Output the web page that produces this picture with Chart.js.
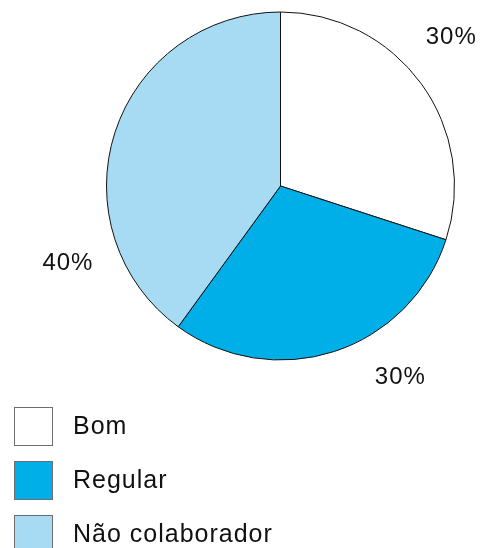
<!DOCTYPE html>
<html>
<head>
<meta charset="utf-8">
<script src="https://cdn.jsdelivr.net/npm/chart.js@4"></script>
<style>
  html, body { margin: 0; padding: 0; background: #fff; }
  #wrap { position: relative; width: 483px; height: 548px; overflow: hidden; }
</style>
</head>
<body>
<div id="wrap"><canvas id="pie" width="483" height="548"></canvas></div>
<script>
// Chart data
const categories = ['Bom', 'Regular', 'Não colaborador'];
const values = [30, 30, 40];
const sliceColors = ['#ffffff', '#00aee8', '#a7dbf3'];
// where each percentage sits around the pie (degrees clockwise from top)
const labelAngles = [49, 148, 250];

const FONT = '"Liberation Sans", Arial, sans-serif';

// Percent labels outside the pie
const percentLabels = {
  id: 'percentLabels',
  afterDatasetsDraw(chart) {
    const ctx = chart.ctx;
    const arc = chart.getDatasetMeta(0).data[0];
    const total = values.reduce((a, b) => a + b, 0);
    ctx.save();
    ctx.font = '24px ' + FONT;
    ctx.letterSpacing = '1px';
    ctx.fillStyle = '#111';
    ctx.textAlign = 'center';
    ctx.textBaseline = 'middle';
    values.forEach((v, i) => {
      const a = labelAngles[i] * Math.PI / 180;
      const d = arc.outerRadius * 1.3;
      const x = arc.x + Math.sin(a) * d;
      const y = arc.y - Math.cos(a) * d;
      ctx.fillText(Math.round(v / total * 100) + '%', x, y);
    });
    ctx.restore();
  }
};

// Square legend in the lower left corner
const boxLegend = {
  id: 'boxLegend',
  afterDraw(chart) {
    const ctx = chart.ctx;
    ctx.save();
    ctx.font = '25px ' + FONT;
    ctx.letterSpacing = '1px';
    ctx.textBaseline = 'middle';
    categories.forEach((name, i) => {
      const top = 407 + i * 54;
      ctx.fillStyle = sliceColors[i];
      ctx.fillRect(14.5, top + 0.5, 38, 38);
      ctx.strokeStyle = '#6d6d6d';
      ctx.lineWidth = 1;
      ctx.strokeRect(14.5, top + 0.5, 38, 38);
      ctx.fillStyle = '#111';
      ctx.fillText(name, 73, top + 20);
    });
    ctx.restore();
  }
};

new Chart(document.getElementById('pie'), {
  type: 'pie',
  data: {
    labels: categories,
    datasets: [{
      data: values,
      backgroundColor: sliceColors,
      borderColor: '#111',
      borderWidth: 1
    }]
  },
  options: {
    responsive: false,
    animation: false,
    layout: { padding: { left: 106, top: 11, right: 28, bottom: 187 } },
    plugins: {
      legend: { display: false },
      tooltip: { enabled: false }
    }
  },
  plugins: [percentLabels, boxLegend]
});
</script>
</body>
</html>
